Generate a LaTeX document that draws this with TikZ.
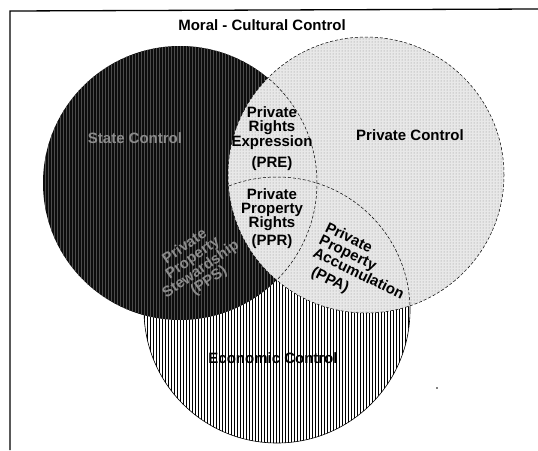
\documentclass[tikz,border=0pt]{standalone}
\usepackage{fontspec}
\setmainfont{Liberation Sans}
\usetikzlibrary{patterns,patterns.meta}

\tikzset{
  region text/.style={font=\fontsize{15}{14}\selectfont\bfseries, align=center, inner sep=0pt},
  ring line/.style={line width=0.5pt, dash pattern=on 3pt off 2pt},
}

\begin{document}
\begin{tikzpicture}[x=1pt,y=-1pt]
        \useasboundingbox (0,0) rectangle (538,450);
        {

        % Frame round the diagram (top and left side only)
        \draw [line width=1.3pt] (10.000000,450.000000) -- (10.000000,11.000000) -- (538.000000,9.000000);%

        % Centres of the three circles
        \coordinate (state) at (180.000000,183.000000);%
        \coordinate (priv)  at (366.000000,175.000000);%
        \coordinate (econ)  at (277.000000,310.000000);%

        % Drawing circle Economic (hatched)
        \fill [white] (econ) circle [radius=133pt];%
        \fill [pattern={Lines[angle=90, distance=3pt, line width=0.7pt]}] (econ) circle [radius=133pt];%
        \draw [line width=0.6pt] (econ) circle [radius=133pt];%

        % Drawing circle State (dark)
        \fill [black!95] (state) circle [radius=137pt];%
        \fill [pattern={Lines[angle=90, distance=3pt, line width=0.5pt]}, pattern color=black!70] (state) circle [radius=137pt];%

        % Drawing circle Private (stippled)
        \fill [black!9] (priv) circle [radius=138pt];%
        \fill [pattern=dots, pattern color=black!45] (priv) circle [radius=138pt];%
        \draw [ring line] (priv) circle [radius=138pt];%

        % Drawing the inner arcs of State and Economic
        \begin{scope}
          \clip (priv) circle [radius=138pt];%
          \draw [ring line] (state) circle [radius=137pt];%
          \draw [ring line] (econ) circle [radius=133pt];%
        \end{scope}

        % Stray dot
        \fill (437.000000,388.000000) circle [radius=0.8pt];%

        % Labels
        \node [region text] (title) at (262.000000,25.000000) {Moral - Cultural Control};%
        \node [region text, text=black!45] (statelbl) at (135.000000,138.000000) {State Control};%
        \node [region text] (privlbl) at (410.000000,135.000000) {Private Control};%
        \node [region text] (econlbl) at (273.000000,358.000000) {Economic Control};%
        \node [region text] (prelbl) at (272.000000,138.500000) {Private\\Rights\\Expression\\[7pt](PRE)};%
        \node [region text] (pprlbl) at (272.000000,218.500000) {Private\\Property\\Rights\\[3pt](PPR)};%
        \node [region text, align=left, rotate=-26, anchor=north west] (ppalbl) at (329.000000,221.000000) {Private\\Property\\Accumulation\\[4pt]\hspace{7pt}(PPA)};%
        \node [region text, rotate=35, text=black!45] (ppslbl) at (197.000000,264.000000) {Private\\Property\\Stewardship\\(PPS)};%
        }
\end{tikzpicture}
\end{document}
